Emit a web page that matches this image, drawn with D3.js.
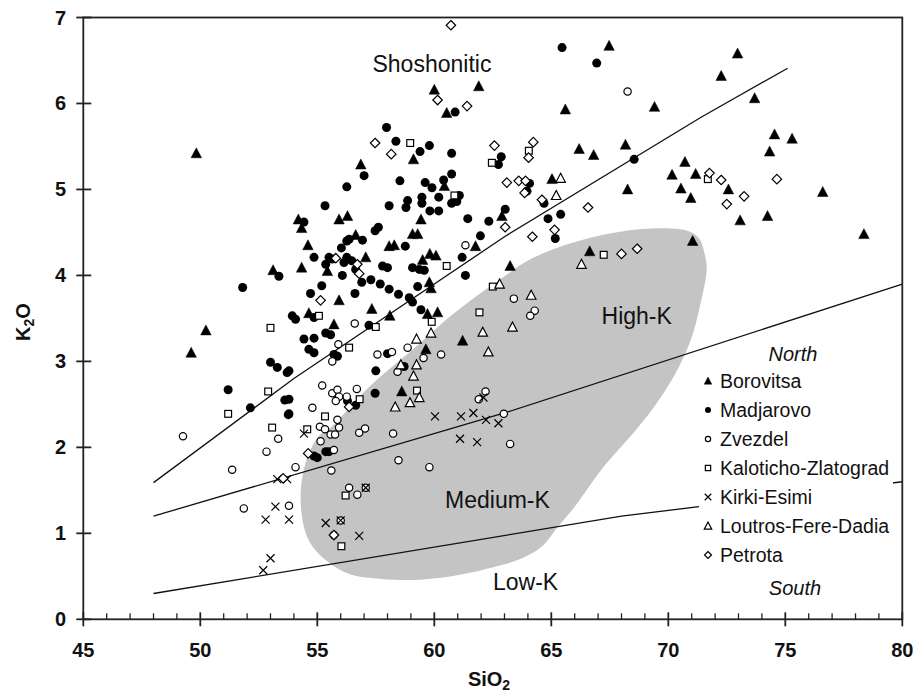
<!DOCTYPE html>
<html><head><meta charset="utf-8">
<script src="https://cdn.jsdelivr.net/npm/d3@7"></script>
<style>body{margin:0;background:#fff}svg text{font-family:"Liberation Sans",Arial,Helvetica,sans-serif;fill:#111}</style>
</head><body><svg id="c" width="915" height="697"></svg>
<script>
const xTicks=[45,50,55,60,65,70,75,80];
const yTicks=[0,1,2,3,4,5,6,7];
const seriesNames=["Borovitsa","Madjarovo","Zvezdel","Kaloticho-Zlatograd","Kirki-Esimi","Loutros-Fere-Dadia","Petrota"];
const fieldLabels=["Shoshonitic","High-K","Medium-K","Low-K"];

const borovitsa=[[49.83,5.42],[60.0,6.16],[61.9,6.2],[60.53,5.89],[59.11,5.35],[56.86,5.29],[60.43,5.04],[54.19,4.65],[55.93,4.65],[56.29,4.69],[59.43,4.65],
[67.47,6.67],[65.6,5.93],[69.41,5.96],[66.19,5.47],[66.81,5.40],[68.17,5.52],[70.71,5.32],[70.16,5.17],[71.17,5.18],[70.54,5.01],[70.96,4.90],[68.26,5.00],[65.03,5.12],[62.89,4.69],
[72.96,6.58],[72.26,6.32],[73.69,6.06],[74.54,5.64],[75.29,5.59],[74.33,5.44],[72.57,5.00],[76.6,4.97],[73.07,4.64],[74.24,4.69],[78.36,4.48],
[71.04,4.40],[66.64,4.28],[63.24,4.11],
[54.33,4.55],[56.64,4.47],[59.07,4.48],[59.29,4.48],[58.07,4.34],[58.29,4.35],[61.76,4.34],[54.6,4.35],[55.43,4.05],[57.07,4.21],[54.33,4.09],[59.5,4.18],[59.81,4.25],[60.07,4.23],[59.79,3.92],[59.86,3.85],[59.71,3.55],[60.14,3.57],[58.1,3.53],[57.33,3.61],[55.93,3.71],[54.64,3.56],[55.71,3.43],[59.64,3.14],[61.21,3.24],[58.61,2.65],
[53.11,4.06],[50.24,3.36],[49.61,3.10]];
const madjarovo=[[60.89,5.90],[57.96,5.72],[58.36,5.56],[59.79,5.51],[59.39,5.44],[60.74,5.42],[57.0,5.16],[56.26,5.03],[58.53,5.10],[59.61,5.08],[59.9,5.02],[60.4,5.11],[60.74,5.18],[55.33,4.81],[58.07,4.81],[58.86,4.87],[58.79,4.79],[59.47,4.91],[59.47,4.84],[60.19,4.91],[61.07,4.93],[60.74,4.84],[60.96,4.86],[59.81,4.75],[60.19,4.75],[54.43,4.62],[61.43,4.66],[62.33,4.63],
[65.46,6.65],[66.94,6.47],[62.86,5.38],[62.74,5.29],[68.54,5.35],[64.07,5.07],[63.96,4.98],[64.69,4.84],[63.03,4.77],[64.86,4.66],[65.4,4.71],[65.17,4.43],
[57.61,4.56],[57.47,4.52],[56.03,4.32],[56.36,4.42],[56.26,4.40],[56.93,4.41],[58.76,4.34],[61.97,4.46],[54.86,4.21],[55.5,4.21],[55.64,4.19],[55.36,4.13],[56.26,4.21],[56.47,4.17],[56.14,4.15],[56.64,4.07],[56.07,4.00],[56.9,3.92],[57.29,3.95],[57.69,3.90],[57.79,4.11],[58.0,4.09],[59.07,4.09],[59.36,4.07],[59.57,4.06],[61.19,4.21],[61.33,4.00],[59.29,3.87],[58.07,3.84],[58.47,3.78],[58.93,3.74],[59.07,3.69],[59.43,3.60],[54.71,3.79],[55.19,3.88],[56.61,3.79],[53.93,3.53],[54.07,3.49],[54.86,3.51],[55.36,3.33],[55.57,3.31],[57.21,3.42],[54.43,3.26],[54.86,3.27],[54.64,3.14],[54.86,3.10],[55.71,3.08],[55.86,3.06],[53.79,2.89],[57.5,2.89],[58.0,3.09],[58.71,2.94],[57.47,2.63],[56.29,2.54],[56.64,2.49],[53.79,2.56],[53.79,2.39],
[53.36,3.99],[51.81,3.86],[53.0,2.99],[53.29,2.93],[53.71,2.87],[51.19,2.67],[52.14,2.46],[53.61,2.55],[53.76,2.38],
[54.86,1.90],[55.0,1.88],[55.36,1.95],[55.5,1.95]];
const zvezdel=[[68.26,6.14],[61.33,4.35],[63.4,3.73],[64.29,3.59],[64.1,3.53],[62.97,2.39],[56.6,3.44],[55.9,3.20],[55.64,3.00],[57.57,3.08],[58.19,3.11],[58.86,3.16],[60.29,3.08],[59.54,3.04],[58.43,2.88],[55.21,2.72],[55.64,2.63],[55.86,2.67],[55.93,2.59],[55.79,2.54],[56.26,2.59],[56.69,2.68],[54.79,2.46],[55.86,2.32],[55.11,2.24],[57.04,2.22],[62.19,2.65],[61.9,2.56],
[55.33,2.21],[55.57,2.15],[55.76,2.15],[55.93,2.23],[56.79,2.17],[58.24,2.16],[55.14,2.07],[55.71,1.97],[54.07,1.77],[55.6,1.73],[58.47,1.85],[59.79,1.77],[56.36,1.53],[56.71,1.45],[57.07,1.53],[53.79,1.32],[56.0,1.15],[55.71,0.98],[63.24,2.04],
[49.26,2.13],[53.33,2.10],[52.83,1.95],[51.36,1.74],[51.86,1.29]];
const kaloticho=[[58.97,5.54],[62.46,5.31],[64.04,5.45],[60.86,4.93],[71.69,5.12],[67.24,4.24],[62.5,3.87],[60.53,4.11],[55.07,3.53],[57.5,3.40],[59.89,3.46],[56.36,3.16],[61.93,3.57],[56.81,2.56],[55.33,2.36],[54.57,2.21],[59.26,2.66],[53.0,3.39],[52.9,2.65],[51.19,2.39],[53.07,2.23],[56.21,1.44],[56.03,0.85]];
const kirki=[[62.74,2.28],[60.03,2.36],[61.14,2.36],[61.67,2.40],[62.21,2.32],[62.1,2.58],[54.43,2.16],[53.71,1.63],[61.1,2.10],[61.83,2.06],[57.07,1.53],[53.79,1.16],[55.36,1.12],[56.0,1.15],[56.79,0.97],[53.29,1.63],[53.21,1.31],[52.79,1.16],[53.0,0.71],[52.69,0.57]];
const loutros=[[65.4,5.13],[65.21,4.93],[66.29,4.13],[62.79,3.90],[64.14,3.77],[63.34,3.40],[59.24,3.26],[59.86,3.33],[62.07,3.34],[62.31,3.11],[58.57,2.96],[59.24,2.96],[59.11,2.83],[59.36,2.58],[58.96,2.52],[58.33,2.47]];
const petrota=[[60.71,6.91],[60.14,6.04],[61.4,5.97],[57.47,5.54],[58.16,5.41],[62.57,5.51],[64.23,5.55],[64.03,5.37],[63.1,5.08],[63.61,5.10],[63.9,5.10],[63.86,4.96],[64.6,4.88],[66.57,4.79],[71.76,5.19],[72.26,5.11],[74.64,5.12],[73.24,4.92],[72.5,4.83],[63.03,4.56],[64.19,4.45],[65.14,4.53],[68.0,4.25],[68.67,4.31],[55.79,4.20],[56.71,4.13],[56.79,4.02],[55.14,3.71],[56.36,2.47],[54.61,1.93],[53.54,1.64],[55.71,0.98]];

const lineShoshonitic=[[48,1.59],[54,2.8],[63,4.45],[71.4,5.84],[75.1,6.41]];
const lineHighK=[[48,1.2],[63,2.4],[80,3.9]];
const lineLowK=[[48,0.3],[68,1.2],[80,1.6]];
const fieldOutline=[[55.06,2.13],[55.49,2.21],[57.2,2.7],[59.34,3.2],[60.8,3.55],[62.64,3.92],[64.27,4.21],[66.71,4.44],[68.86,4.54],[70.44,4.54],[71.0,4.50],[71.34,4.42],[71.6,4.19],[71.64,4.05],[71.3,3.58],[71.0,3.28],[70.44,2.93],[69.57,2.54],[68.64,2.21],[67.14,1.74],[66.0,1.31],[65.29,1.08],[64.57,0.84],[63.57,0.69],[62.43,0.60],[61.14,0.52],[59.43,0.46],[57.71,0.47],[56.43,0.52],[55.49,0.66],[54.63,0.92],[54.29,1.36],[54.5,1.82]];

const svg=d3.select("#c");
const x=d3.scaleLinear().domain([45,80]).range([83.3,902.3]);
const y=d3.scaleLinear().domain([0,7]).range([619.3,17.5]);
const X0=x(45),X1=x(80),Y0=y(0),Y1=y(7);

// field
svg.append("path").datum(fieldOutline)
  .attr("d",d3.line().x(d=>x(d[0])).y(d=>y(d[1])).curve(d3.curveCatmullRomClosed))
  .attr("fill","#c4c4c4");

// boundary lines
const ln=d3.line().x(d=>x(d[0])).y(d=>y(d[1]));
[lineShoshonitic,lineHighK,lineLowK].forEach(L=>{
  svg.append("path").attr("d",ln(L)).attr("fill","none").attr("stroke","#111").attr("stroke-width",1.3);
});

// symbols
function drawSym(g,type,cx,cy,s){
  const h=s/2;
  if(type==="tri"||type==="otri"){
    g.append("path").attr("d",`M${cx},${cy-h*1.05}L${cx+h},${cy+h*0.85}L${cx-h},${cy+h*0.85}Z`)
     .attr("fill",type==="tri"?"#000":"#fff").attr("stroke","#000").attr("stroke-width",type==="tri"?0.5:1.2).attr("stroke-linejoin","miter");
  } else if(type==="dot"){
    g.append("circle").attr("cx",cx).attr("cy",cy).attr("r",h).attr("fill","#000");
  } else if(type==="circ"){
    g.append("circle").attr("cx",cx).attr("cy",cy).attr("r",h-0.6).attr("fill","#fff").attr("stroke","#000").attr("stroke-width",1.2);
  } else if(type==="sq"){
    g.append("rect").attr("x",cx-h+0.6).attr("y",cy-h+0.6).attr("width",s-1.2).attr("height",s-1.2).attr("fill","#fff").attr("stroke","#000").attr("stroke-width",1.2);
  } else if(type==="x"){
    g.append("path").attr("d",`M${cx-h},${cy-h}L${cx+h},${cy+h}M${cx-h},${cy+h}L${cx+h},${cy-h}`).attr("stroke","#000").attr("stroke-width",1.2).attr("fill","none");
  } else if(type==="dia"){
    g.append("path").attr("d",`M${cx},${cy-h}L${cx+h},${cy}L${cx},${cy+h}L${cx-h},${cy}Z`).attr("fill","#fff").attr("stroke","#000").attr("stroke-width",1.2);
  }
}
const series=[
  {data:borovitsa,type:"tri",s:10.5,ls:7.5},
  {data:madjarovo,type:"dot",s:9,ls:6},
  {data:zvezdel,type:"circ",s:8.5,ls:6.5},
  {data:kaloticho,type:"sq",s:8,ls:6.5},
  {data:kirki,type:"x",s:8,ls:6.5},
  {data:loutros,type:"otri",s:9.5,ls:7.5},
  {data:petrota,type:"dia",s:9.5,ls:7}
];
const pts=svg.append("g");
series.forEach(S=>{
  const g=pts.append("g");
  S.data.forEach(d=>drawSym(g,S.type,x(d[0]),y(d[1]),S.s));
});

// legend
const lg=svg.append("g");
lg.append("rect").attr("x",699).attr("y",372).attr("width",194).attr("height",232).attr("fill","#fff");
lg.append("text").attr("x",793).attr("y",361).attr("text-anchor","middle").attr("font-size",20).attr("font-style","italic").text("North");
seriesNames.forEach((n,i)=>{
  const by=388+i*29;
  drawSym(lg,series[i].type,708,by-7,series[i].ls);
  lg.append("text").attr("x",720).attr("y",by).attr("font-size",19.5).text(n);
});
lg.append("text").attr("x",795).attr("y",595).attr("text-anchor","middle").attr("font-size",20).attr("font-style","italic").text("South");

// field labels
const lab=[[59.9,6.37],[68.65,3.43],[62.7,1.3],[63.9,0.34]];
fieldLabels.forEach((t,i)=>{
  svg.append("text").attr("x",x(lab[i][0])).attr("y",y(lab[i][1])).attr("text-anchor","middle").attr("font-size",23).text(t);
});

// frame
const fr=svg.append("g").attr("stroke","#222").attr("stroke-width",1.8).attr("fill","none");
fr.append("rect").attr("x",X0).attr("y",Y1).attr("width",X1-X0).attr("height",Y0-Y1);
yTicks.forEach(t=>{
  fr.append("line").attr("x1",X0-7).attr("x2",X0+8).attr("y1",y(t)).attr("y2",y(t));
  svg.append("text").attr("x",66).attr("y",y(t)+7).attr("text-anchor","end").attr("font-size",20).attr("font-weight","bold").text(t);
});
d3.range(45,81).forEach(v=>{
  if(xTicks.includes(v)){
    fr.append("line").attr("x1",x(v)).attr("x2",x(v)).attr("y1",Y0-7).attr("y2",Y0+7);
  } else {
    fr.append("line").attr("x1",x(v)).attr("x2",x(v)).attr("y1",Y0-6).attr("y2",Y0).attr("stroke-width",1.3);
  }
});
xTicks.forEach(t=>{
  svg.append("text").attr("x",x(t)).attr("y",657).attr("text-anchor","middle").attr("font-size",20).attr("font-weight","bold").text(t);
});
// axis titles
const xt=svg.append("text").attr("x",489).attr("y",686).attr("text-anchor","middle").attr("font-size",20).attr("font-weight","bold");
xt.append("tspan").text("SiO");
xt.append("tspan").attr("font-size",14).attr("dy",4).text("2");
const yt=svg.append("text").attr("transform","translate(30,322) rotate(-90)").attr("text-anchor","middle").attr("font-size",20).attr("font-weight","bold");
yt.append("tspan").text("K");
yt.append("tspan").attr("font-size",14).attr("dy",4).text("2");
yt.append("tspan").attr("dy",-4).text("O");
</script></body></html>
